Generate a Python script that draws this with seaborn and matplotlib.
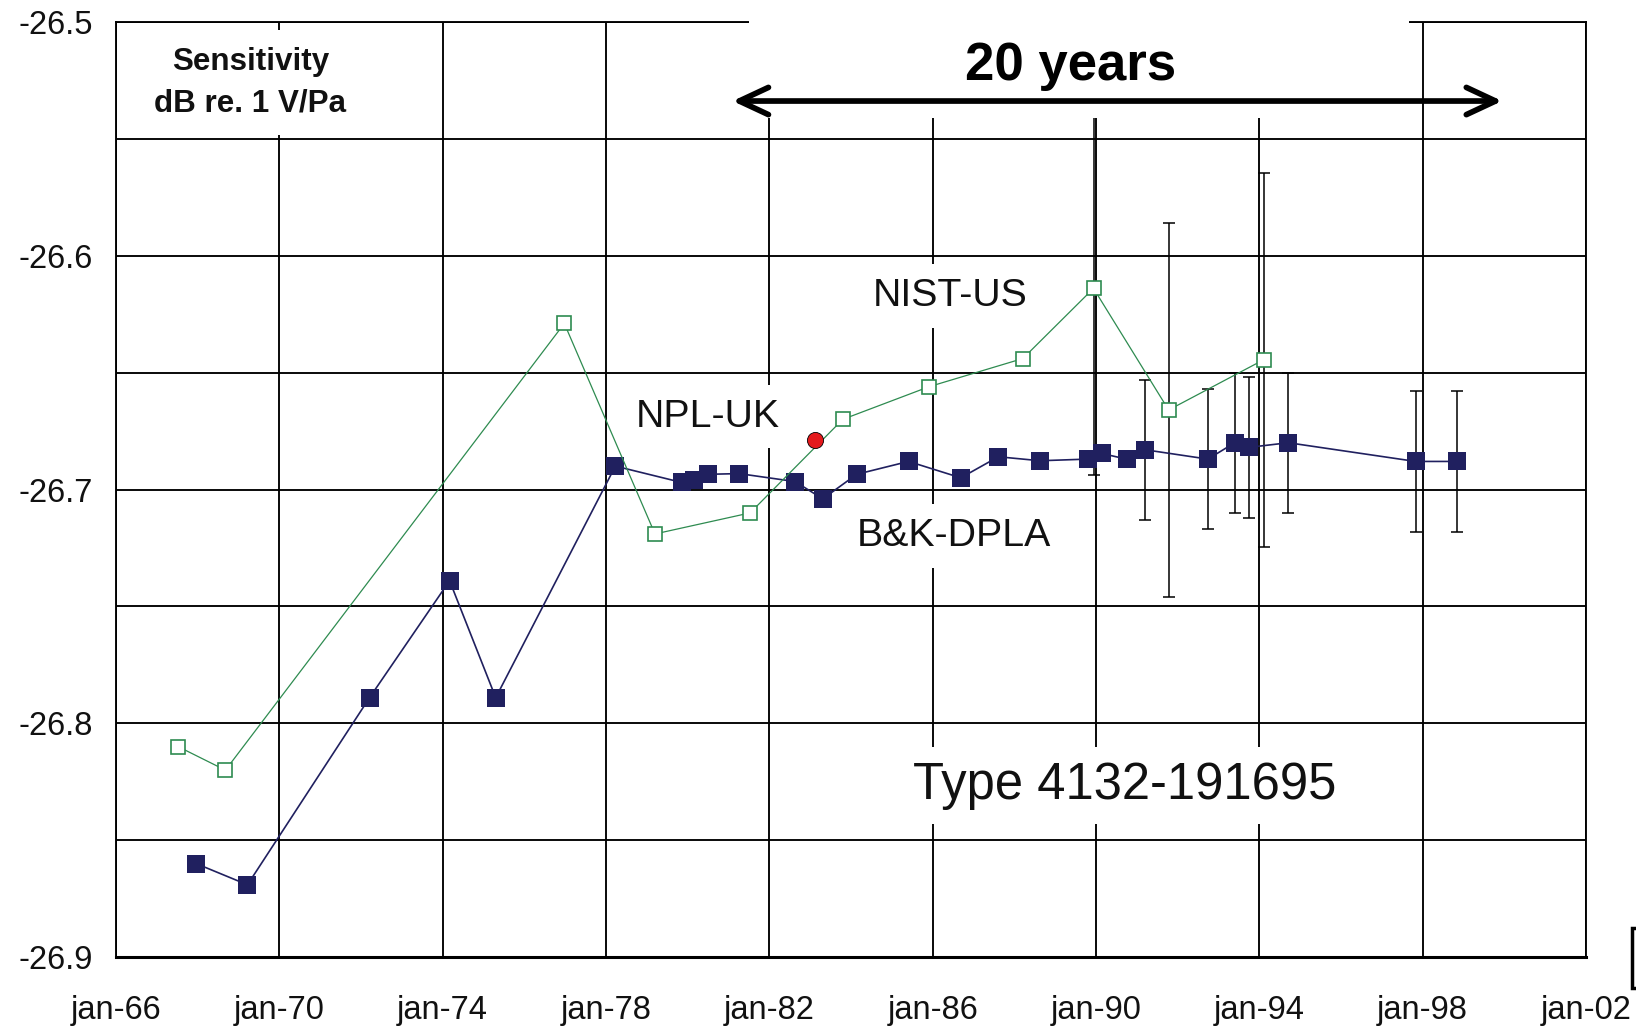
import numpy as np
import pandas as pd
import matplotlib
matplotlib.use("Agg")
import matplotlib.pyplot as plt
from matplotlib.patches import Rectangle
from matplotlib.ticker import MultipleLocator, FixedLocator
import seaborn as sns

# ---------------- data ----------------
bk_years = [1967.97, 1969.22, 1972.21, 1974.17, 1975.30, 1978.23, 1979.86, 1980.15,
            1980.50, 1981.26, 1982.63, 1983.31, 1984.14, 1985.41, 1986.69, 1987.61,
            1988.63, 1989.80, 1990.14, 1990.75, 1991.20, 1992.74, 1993.40, 1993.74,
            1994.71, 1997.83, 1998.85]
bk_sens = [-26.860, -26.869, -26.789, -26.739, -26.789, -26.690, -26.697, -26.696,
           -26.6935, -26.6932, -26.6966, -26.704, -26.6935, -26.688, -26.695, -26.686,
           -26.6877, -26.687, -26.6846, -26.687, -26.683, -26.687, -26.680, -26.682,
           -26.680, -26.688, -26.688]
bk_err = [0, 0, 0, 0, 0, 0, 0, 0, 0, 0, 0, 0, 0, 0, 0, 0, 0, 0, 0, 0,
          0.03, 0.03, 0.03, 0.03, 0.03, 0.03, 0.03]

nist_years = [1967.53, 1968.68, 1976.98, 1979.20, 1981.53, 1983.80, 1985.92,
              1988.21, 1989.94, 1991.78, 1994.11]
nist_sens = [-26.810, -26.820, -26.629, -26.719, -26.710, -26.670, -26.656,
             -26.644, -26.614, -26.666, -26.6445]
nist_err = [0, 0, 0, 0, 0, 0, 0, 0, 0.08, 0.08, 0.08]

npl_years = [1983.12]
npl_sens = [-26.679]

x_ticks = [1966, 1970, 1974, 1978, 1982, 1986, 1990, 1994, 1998, 2002]
x_tick_labels = ["jan-66", "jan-70", "jan-74", "jan-78", "jan-82", "jan-86",
                 "jan-90", "jan-94", "jan-98", "jan-02"]
y_ticks = [-26.9, -26.8, -26.7, -26.6, -26.5]
y_tick_labels = ["-26.9", "-26.8", "-26.7", "-26.6", "-26.5"]

# ---------------- style ----------------
NAVY = "#20205f"
GREEN = "#2e8b50"
RED = "#e4191c"

sns.set_theme(style="white")
plt.rcParams["font.family"] = ["Liberation Sans", "DejaVu Sans"]
plt.rcParams["axes.axisbelow"] = True

fig = plt.figure(figsize=(16.36, 10.30), dpi=100)
ax = fig.add_axes([0.0709, 0.0706, 0.8985, 0.9083])

bk = pd.DataFrame({"year": bk_years, "sens": bk_sens, "err": bk_err})
nist = pd.DataFrame({"year": nist_years, "sens": nist_sens, "err": nist_err})
npl = pd.DataFrame({"year": npl_years, "sens": npl_sens})

# error bars (only where an uncertainty is given)
for df in (bk, nist):
    m = df["err"] > 0
    ax.errorbar(df.loc[m, "year"], df.loc[m, "sens"], yerr=df.loc[m, "err"],
                fmt="none", ecolor="black", elinewidth=1.1, capsize=4.3,
                capthick=1.1, zorder=3)

sns.lineplot(data=bk, x="year", y="sens", ax=ax, estimator=None, sort=False,
             errorbar=None, color=NAVY, lw=1.2, marker="s", markersize=13,
             markeredgewidth=0, markerfacecolor=NAVY, zorder=4)
sns.lineplot(data=nist, x="year", y="sens", ax=ax, estimator=None, sort=False,
             errorbar=None, color=GREEN, lw=0.9, marker="s", markersize=10.5,
             markeredgewidth=1.2, markeredgecolor=GREEN, markerfacecolor="white",
             zorder=5)
sns.scatterplot(data=npl, x="year", y="sens", ax=ax, color=RED, s=135,
                edgecolor="black", linewidth=0.6, zorder=6)

# ---------------- axes ----------------
ax.set_xlim(1966, 2002)
ax.set_ylim(-26.9, -26.5)
ax.xaxis.set_major_locator(FixedLocator(x_ticks))
ax.set_xticklabels(x_tick_labels)
ax.yaxis.set_major_locator(FixedLocator(y_ticks))
ax.set_yticklabels(y_tick_labels)
ax.yaxis.set_minor_locator(MultipleLocator(0.05))
ax.set_xlabel("")
ax.set_ylabel("")

ax.grid(True, which="major", axis="both", color="black", lw=1.35)
ax.grid(True, which="minor", axis="y", color="black", lw=1.35)
for s in ax.spines.values():
    s.set_visible(True)
    s.set_color("black")
    s.set_linewidth(1.35)
ax.spines["bottom"].set_linewidth(2.2)

ax.tick_params(axis="both", which="major", direction="out", length=6.5,
               width=1.3, color="black", labelsize=23.5, labelcolor="#111111")
ax.tick_params(axis="y", which="major", pad=10.3)
ax.tick_params(axis="x", which="major", pad=21)
ax.tick_params(which="minor", length=0)

# ---------------- annotations ----------------
box = dict(boxstyle="square,pad=0.35", fc="white", ec="none")
ax.text(1986.43, -26.6215, "NIST-US", fontsize=28.3, ha="center", va="baseline",
        color="#111111", bbox=box, zorder=7)
ax.text(1980.50, -26.6731, "NPL-UK", fontsize=28.3, ha="center", va="baseline",
        color="#111111", bbox=box, zorder=7)
ax.text(1986.51, -26.7242, "B&K-DPLA", fontsize=28.3, ha="center", va="baseline",
        color="#111111", bbox=box, zorder=7)
ax.text(1990.71, -26.8323, "Type 4132-191695", fontsize=36.5, ha="center",
        va="baseline", color="#111111",
        bbox=dict(boxstyle="square,pad=0.27", fc="white", ec="none"), zorder=7)

# white panels behind header texts
ax.add_patch(Rectangle((1981.5, -26.5412), 1997.67 - 1981.5, 0.07,
                       fc="white", ec="none", clip_on=False, zorder=8))
ax.add_patch(Rectangle((1966.05, -26.5485), 1972.2 - 1966.05, 0.045,
                       fc="white", ec="none", clip_on=False, zorder=8))

ax.text(1969.29, -26.5206, "Sensitivity", fontsize=22.6, fontweight="bold",
        ha="center", va="baseline", color="#111111", zorder=9)
ax.text(1969.29, -26.5385, "dB re. 1 V/Pa", fontsize=22.6, fontweight="bold",
        ha="center", va="baseline", color="#111111", zorder=9)

ax.text(1989.37, -26.5249, "20 years", fontsize=38, fontweight="bold",
        ha="center", va="baseline", color="black", zorder=9, clip_on=False)
ax.annotate("", xy=(1981.10, -26.5339), xytext=(1999.95, -26.5339),
            arrowprops=dict(arrowstyle="<->,head_length=21,head_width=9.8",
                            lw=4.1, color="black", shrinkA=0, shrinkB=0,
                            mutation_scale=1),
            annotation_clip=False, zorder=9)

# small clipped frame at the right edge of the original image
fig.add_artist(Rectangle((1632 / 1636, 42 / 1030), 0.02, 60 / 1030,
                         transform=fig.transFigure, fc="white", ec="black",
                         lw=2.5, clip_on=False))

fig.savefig("out.png", dpi=100)
